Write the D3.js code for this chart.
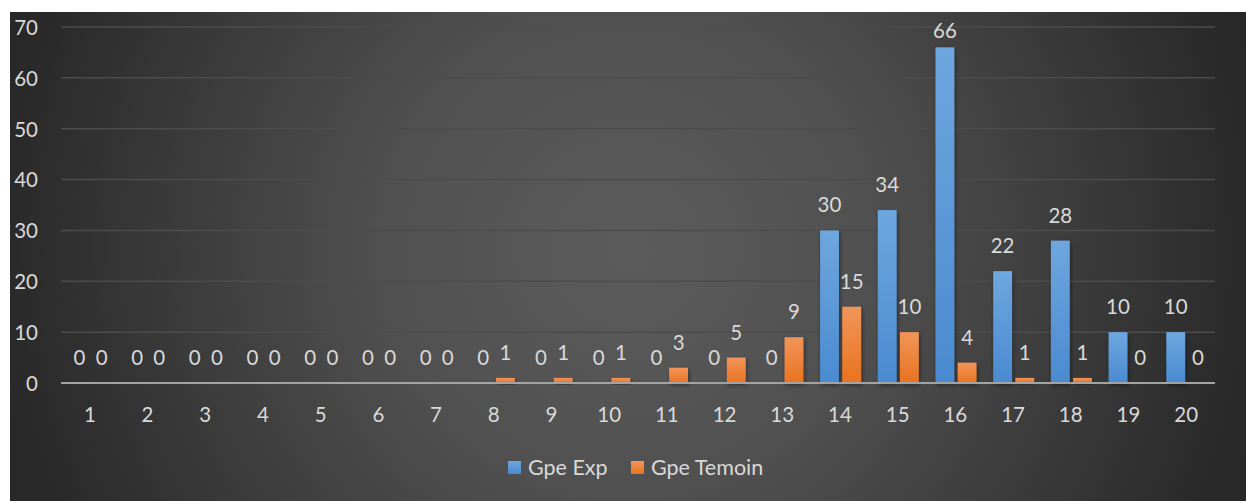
<!DOCTYPE html>
<html>
<head>
<meta charset="utf-8">
<script src="https://cdn.jsdelivr.net/npm/d3@7"></script>
<style>
  html, body { margin: 0; padding: 0; background: #ffffff; }
  svg { display: block; }
  text { font-family: Lato, "Open Sans", sans-serif; fill: #d9d9d9; }
</style>
</head>
<body>
<svg id="chart" width="1246" height="501"></svg>
<script>
// Categories (scores 1..20) and the two groups' counts
const categories = ["1","2","3","4","5","6","7","8","9","10","11","12","13","14","15","16","17","18","19","20"];
const gpeExp    = [0,0,0,0,0,0,0,0,0,0,0,0,0,30,34,66,22,28,10,10];
const gpeTemoin = [0,0,0,0,0,0,0,1,1,1,3,5,9,15,10,4,1,1,0,0];
const seriesNames = ["Gpe Exp", "Gpe Temoin"];
const yTicks = [0,10,20,30,40,50,60,70];

const series = [
  { name: seriesNames[0], values: gpeExp,    key: "exp" },
  { name: seriesNames[1], values: gpeTemoin, key: "tem" }
];

const W = 1246, H = 501;
const FS = "20.5px";
const svg = d3.select("#chart");
const defs = svg.append("defs");

// Chart area background: radial fade from mid grey to near black
const bg = defs.append("radialGradient")
  .attr("id", "bgGrad")
  .attr("gradientUnits", "userSpaceOnUse")
  .attr("cx", 628).attr("cy", 250).attr("r", 700);
[[0, "#5c5c5c"], [0.35, "#505050"], [0.88, "#2a2a2a"], [1, "#252525"]].forEach(([o, c]) =>
  bg.append("stop").attr("offset", o).attr("stop-color", c));

// Bar fills
const blueGrad = defs.append("linearGradient").attr("id", "grad-exp")
  .attr("x1", 0).attr("y1", 0).attr("x2", 0).attr("y2", 1);
blueGrad.append("stop").attr("offset", 0).attr("stop-color", "#6ea7df");
blueGrad.append("stop").attr("offset", 1).attr("stop-color", "#4a8ad0");
const orangeGrad = defs.append("linearGradient").attr("id", "grad-tem")
  .attr("x1", 0).attr("y1", 0).attr("x2", 0).attr("y2", 1);
orangeGrad.append("stop").attr("offset", 0).attr("stop-color", "#f2955a");
orangeGrad.append("stop").attr("offset", 1).attr("stop-color", "#e8731f");

const shadow = defs.append("filter").attr("id", "barShadow")
  .attr("x", "-30%").attr("y", "-10%").attr("width", "160%").attr("height", "130%");
shadow.append("feDropShadow").attr("dx", 1).attr("dy", 2).attr("stdDeviation", 2)
  .attr("flood-color", "#000").attr("flood-opacity", 0.45);

svg.append("rect")
  .attr("x", 10).attr("y", 12).attr("width", W - 10).attr("height", H - 12)
  .attr("fill", "url(#bgGrad)");

// Scales
const plotLeft = 61, plotRight = 1215;
const x = d3.scaleBand().domain(categories).range([plotLeft, plotRight]).padding(0);
const xSub = d3.scaleBand().domain(series.map(s => s.key))
  .range([9, x.bandwidth() - 7.7]).paddingInner(0.15);
const y = d3.scaleLinear().domain([0, 70]).range([383, 27]);

// Horizontal gridlines
svg.append("g")
  .selectAll("line")
  .data(yTicks.filter(t => t > 0))
  .join("line")
  .attr("x1", plotLeft).attr("x2", plotRight)
  .attr("y1", d => y(d)).attr("y2", d => y(d))
  .attr("stroke", "#4c4c4c").attr("stroke-width", 1.5);

// Y axis labels
const yAxis = d3.axisLeft(y).tickValues(yTicks).tickSize(0).tickPadding(0);
const gy = svg.append("g").attr("transform", "translate(38,0)").call(yAxis);
gy.select(".domain").remove();
gy.selectAll("text")
  .attr("fill", "#d9d9d9")
  .style("font-family", "Lato, 'Open Sans', sans-serif")
  .style("font-size", FS)
  .attr("dy", "0.36em");

// Bars
const groups = svg.append("g")
  .selectAll("g")
  .data(categories.map((c, i) => ({ c, i })))
  .join("g")
  .attr("transform", d => `translate(${x(d.c)},0)`);

const barData = d => series.map(s => ({ key: s.key, v: s.values[d.i] }));

groups.selectAll("rect")
  .data(barData)
  .join("rect")
  .attr("x", d => xSub(d.key))
  .attr("width", xSub.bandwidth())
  .attr("y", d => y(d.v))
  .attr("height", d => y(0) - y(d.v))
  .attr("fill", d => `url(#grad-${d.key})`)
  .attr("filter", "url(#barShadow)");

// Value labels above bars (kept inside the plot top)
groups.selectAll("text.val")
  .data(barData)
  .join("text")
  .attr("class", "val")
  .attr("x", d => xSub(d.key) + xSub.bandwidth() / 2)
  .attr("y", d => Math.max(y(d.v) - 18, 38))
  .attr("text-anchor", "middle")
  .style("font-size", FS)
  .text(d => d.v);

// Baseline axis
svg.append("line")
  .attr("x1", plotLeft).attr("x2", plotRight)
  .attr("y1", y(0)).attr("y2", y(0))
  .attr("stroke", "#a3a3a3").attr("stroke-width", 2);

// X axis labels
const xAxis = d3.axisBottom(x).tickSize(0).tickPadding(0);
const gx = svg.append("g").attr("transform", "translate(0,422)").call(xAxis);
gx.select(".domain").remove();
gx.selectAll("text")
  .attr("fill", "#d9d9d9")
  .attr("dy", 0)
  .style("font-family", "Lato, 'Open Sans', sans-serif")
  .style("font-size", FS);

// Legend
const legend = svg.append("g");
const legendItems = [
  { name: seriesNames[0], key: "exp", x: 508 },
  { name: seriesNames[1], key: "tem", x: 631 }
];
legendItems.forEach(item => {
  legend.append("rect")
    .attr("x", item.x).attr("y", 461).attr("width", 13).attr("height", 13)
    .attr("fill", `url(#grad-${item.key})`);
  legend.append("text")
    .attr("x", item.x + 20).attr("y", 474.5)
    .style("font-size", "21.5px")
    .text(item.name);
});
</script>
</body>
</html>
